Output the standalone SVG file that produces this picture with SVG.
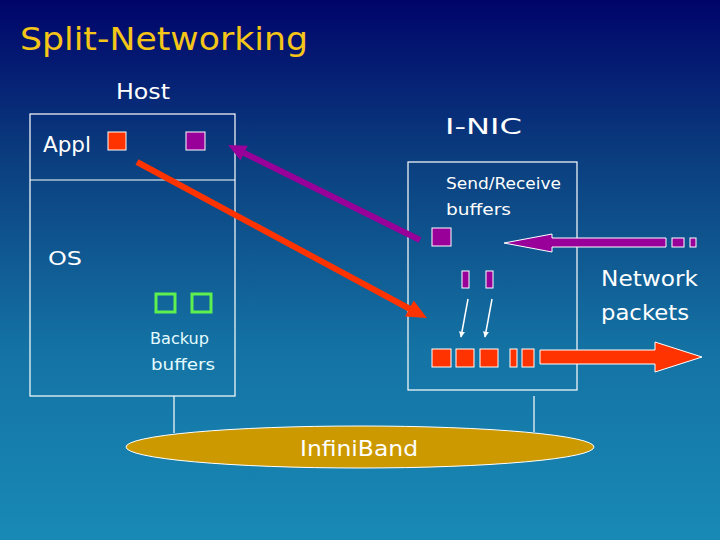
<svg xmlns="http://www.w3.org/2000/svg" width="720" height="540" viewBox="0 0 720 540">
<defs>
<linearGradient id="bg" x1="0" y1="0" x2="0" y2="1">
<stop offset="0" stop-color="#00046a"/>
<stop offset="0.3" stop-color="#0b3f7f"/>
<stop offset="0.65" stop-color="#1473a4"/>
<stop offset="1" stop-color="#1889b5"/>
</linearGradient>
<marker id="wa" viewBox="0 0 10 10" refX="9" refY="5" markerWidth="6" markerHeight="6" orient="auto" markerUnits="userSpaceOnUse">
<path d="M0,0 L10,5 L0,10 z" fill="#ffffff"/>
</marker>
<style>
text{font-family:"DejaVu Sans","Liberation Sans",sans-serif;fill:#ffffff}
.box{fill:none;stroke:#ffffff;stroke-width:1.2}
.red{fill:#ff3300;stroke:#ffffff;stroke-width:1}
.pur{fill:#990099;stroke:#ffffff;stroke-width:1}
.grn{fill:none;stroke:#5ef04e;stroke-width:3}
.wl{stroke:#ffffff;stroke-width:1.2;fill:none}
</style>
</defs>
<rect width="720" height="540" fill="url(#bg)"/>
<text x="20" y="50" font-size="32" style="fill:#f5c518" textLength="288" lengthAdjust="spacingAndGlyphs">Split-Networking</text>
<g id="host">
<rect class="box" x="30" y="114" width="205" height="282"/>
<line class="wl" x1="30" y1="180" x2="235" y2="180"/>
<text x="116" y="99" font-size="22" textLength="54" lengthAdjust="spacingAndGlyphs">Host</text>
</g>
<g id="appl">
<text x="43" y="152" font-size="22" textLength="48" lengthAdjust="spacingAndGlyphs">Appl</text>
<rect class="red" x="108" y="132" width="18" height="18"/>
<rect class="pur" x="186" y="132" width="19" height="18"/>
</g>
<g id="os">
<text x="48" y="265" font-size="20" textLength="34" lengthAdjust="spacingAndGlyphs">OS</text>
</g>
<g id="backup">
<rect class="grn" x="156" y="294" width="19" height="18"/>
<rect class="grn" x="192" y="294" width="19" height="18"/>
<text x="150" y="344" font-size="16" style="fill:#e4fbff" textLength="59" lengthAdjust="spacingAndGlyphs">Backup</text>
<text x="151" y="370" font-size="16" style="fill:#e4fbff" textLength="64" lengthAdjust="spacingAndGlyphs">buffers</text>
</g>
<g id="inic">
<rect class="box" x="408" y="162" width="169" height="228"/>
<text x="445" y="134" font-size="22" textLength="77" lengthAdjust="spacingAndGlyphs">I-NIC</text>
<text x="446" y="189" font-size="16" textLength="115" lengthAdjust="spacingAndGlyphs">Send/Receive</text>
<text x="446" y="215" font-size="16" textLength="65" lengthAdjust="spacingAndGlyphs">buffers</text>
<rect class="pur" x="432" y="228" width="19" height="18"/>
<rect class="pur" x="462" y="271" width="7" height="17"/>
<rect class="pur" x="486" y="271" width="7" height="17"/>
<rect class="red" x="432" y="349" width="19" height="18"/>
<rect class="red" x="456" y="349" width="18" height="18"/>
<rect class="red" x="480" y="349" width="18" height="18"/>
<rect class="red" x="510" y="349" width="7" height="18"/>
<rect class="red" x="522" y="349" width="12" height="18"/>
</g>
<g id="network">
<text x="601" y="286" font-size="22" textLength="97" lengthAdjust="spacingAndGlyphs">Network</text>
<text x="601" y="320" font-size="22" textLength="88" lengthAdjust="spacingAndGlyphs">packets</text>
<rect class="pur" x="672" y="238" width="12" height="9"/>
<rect class="pur" x="690" y="238" width="6" height="9"/>
</g>
<g id="infiniband">
<ellipse cx="360" cy="447" rx="234" ry="21" fill="#cc9900" stroke="#ffffff" stroke-width="1"/>
<text x="359" y="456" font-size="22" text-anchor="middle" textLength="118" lengthAdjust="spacingAndGlyphs">InfiniBand</text>
</g>
<g id="connectors">
<line class="wl" x1="174" y1="396" x2="174" y2="433"/>
<line class="wl" x1="534" y1="396" x2="534" y2="432"/>
<line x1="420" y1="240" x2="244" y2="153" stroke="#990099" stroke-width="6"/>
<polygon points="228,145 247.7,145.8 240.5,160.2" fill="#990099"/>
<line x1="137" y1="162" x2="410" y2="309" stroke="#ff3300" stroke-width="6"/>
<polygon points="427,318 405.1,316.4 413.7,300.6" fill="#ff3300"/>
<line x1="468" y1="299" x2="461" y2="337" stroke="#ffffff" stroke-width="1.5" marker-end="url(#wa)"/>
<line x1="492" y1="299" x2="485" y2="337" stroke="#ffffff" stroke-width="1.5" marker-end="url(#wa)"/>
<polygon class="pur" points="504,243 552,234 552,238 666,238 666,247 552,247 552,252"/>
<polygon class="red" points="540,350 655,350 655,342 702,357 655,372 655,364 540,364"/>
</g>
</svg>
